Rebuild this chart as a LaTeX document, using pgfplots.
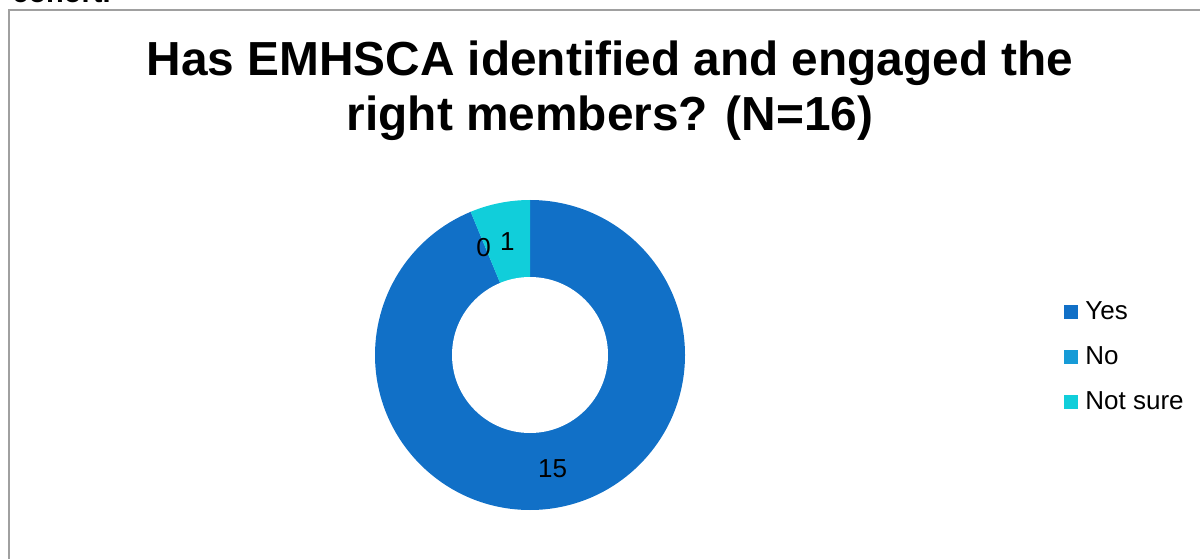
\documentclass[border=0pt]{standalone}
\usepackage{pgfplots}
\usepackage{pgfplotstable}
\pgfplotsset{compat=1.18}
\usepackage{fontspec}
\setmainfont{Liberation Sans}
\definecolor{yescol}{RGB}{17,112,199}
\definecolor{nocol}{RGB}{22,155,215}
\definecolor{nscol}{RGB}{17,206,218}
\definecolor{framecol}{RGB}{160,160,160}

\pgfplotstableread[col sep=comma]{
label,value
Yes,15
No,0
Not sure,1
}\donutdata
\pgfplotstablegetelem{0}{value}\of\donutdata \pgfmathtruncatemacro\vYes{\pgfplotsretval}%
\pgfplotstablegetelem{1}{value}\of\donutdata \pgfmathtruncatemacro\vNo{\pgfplotsretval}%
\pgfplotstablegetelem{2}{value}\of\donutdata \pgfmathtruncatemacro\vNS{\pgfplotsretval}%
\pgfmathsetmacro\tot{\vYes+\vNo+\vNS}%
\pgfmathsetmacro\aA{90}%
\pgfmathsetmacro\aB{\aA-360*\vYes/\tot}%
\pgfmathsetmacro\aC{\aB-360*\vNo/\tot}%
\pgfmathsetmacro\aD{\aC-360*\vNS/\tot}%
\pgfmathsetmacro\mYes{(\aA+\aB)/2}%
\pgfmathsetmacro\mNo{(\aB+\aC)/2}%
\pgfmathsetmacro\mNS{(\aC+\aD)/2}%

\begin{document}%
\begin{tikzpicture}
\begin{axis}[
  at={(0,0)}, anchor=origin,
  x=0.5pt, y=0.5pt,
  xmin=0, xmax=1200, ymin=0, ymax=558,
  hide axis, clip=false,
  legend style={at={(axis cs:1064,258)}, anchor=north west, draw=none, fill=none,
    inner sep=0pt, row sep=10.5pt,
    font=\fontsize{13}{15}\selectfont,
    nodes={inner sep=0pt, text height=9.5pt, text depth=2.5pt}},
  legend cell align=left,
  legend image code/.code={\fill[#1, draw=none] (0pt,-3.5pt) rectangle (7pt,3.5pt);
    \path[draw=none, fill=none] (0pt,0pt) -- (10.5pt,0pt);},
]
% picture area
\path (axis cs:0,0) rectangle (axis cs:1200,558);
% frame (extends past the picture's edges, as in the reference)
\draw[overlay, framecol, line width=1pt] (axis cs:8.5,-30) -- (axis cs:8.5,548) -- (axis cs:1230,548);
% cropped text above the frame
\node[overlay, anchor=base west, inner sep=0pt, font=\fontsize{14.5}{16}\selectfont\bfseries] at (axis cs:12,555.5) {cohort.};
% donut
\fill[yescol] (axis cs:530,203) -- ++(\aA:77.5pt) arc[start angle=\aA, end angle=\aB, radius=77.5pt] -- cycle;
\fill[nocol] (axis cs:530,203) -- ++(\aB:77.5pt) arc[start angle=\aB, end angle=\aC, radius=77.5pt] -- cycle;
\fill[nscol] (axis cs:530,203) -- ++(\aC:77.5pt) arc[start angle=\aC, end angle=\aD, radius=77.5pt] -- cycle;
\fill[white] (axis cs:530,203) circle[radius=39pt];
% data labels
\node[font=\fontsize{13}{15}\selectfont, shift={(\mYes:58pt)}] at (axis cs:530,203) {\vYes};
\node[font=\fontsize{13}{15}\selectfont, shift={(\mNo:58pt)}, xshift=-1pt] at (axis cs:530,203) {\vNo};
\node[font=\fontsize{13}{15}\selectfont, shift={(\mNS:58pt)}] at (axis cs:530,203) {\vNS};
% title
\node[anchor=base, inner sep=0pt, font=\fontsize{23.9}{28}\selectfont\bfseries] at (axis cs:610,482) {Has EMHSCA identified and engaged the};
\node[anchor=base, inner sep=0pt, font=\fontsize{23.9}{28}\selectfont\bfseries] at (axis cs:610,427) {right members? (N=16)};
% legend
\addlegendimage{fill=yescol}\addlegendentry{Yes}
\addlegendimage{fill=nocol}\addlegendentry{No}
\addlegendimage{fill=nscol}\addlegendentry{Not sure}
\end{axis}
\end{tikzpicture}%
\end{document}
